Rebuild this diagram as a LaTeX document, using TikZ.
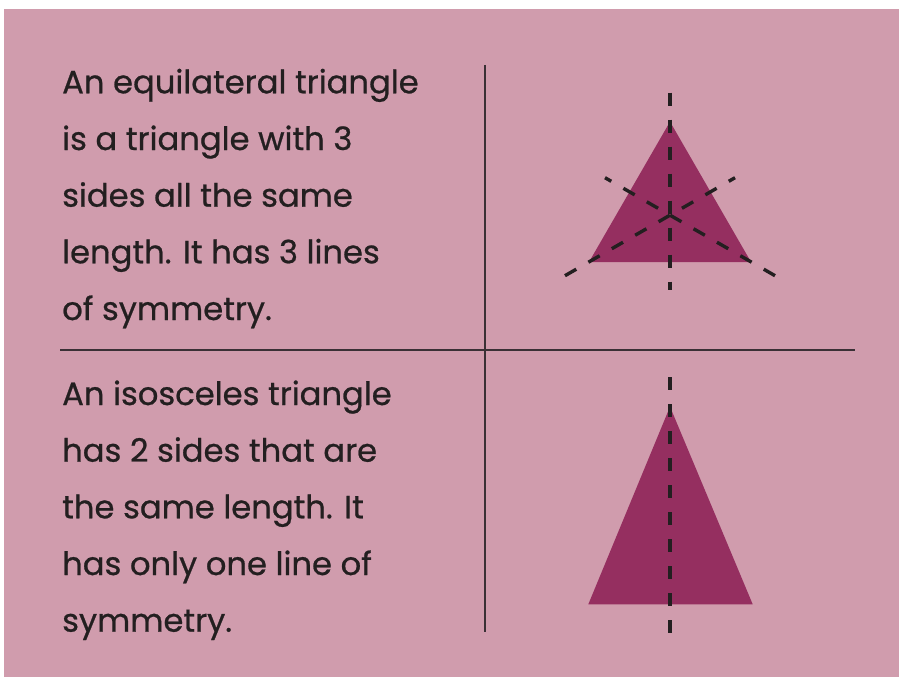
\documentclass[tikz,border=0pt]{standalone}
\usepackage{fontspec}
\setmainfont{Poppins}[FakeBold=0.7]
\definecolor{bgpink}{HTML}{D09CAD}
\definecolor{tri}{HTML}{952F60}
\definecolor{ink}{HTML}{231F20}
\definecolor{rule}{HTML}{3A3035}
\begin{document}
\begin{tikzpicture}[x=1pt,y=-1pt,
  txt/.style={anchor=base west, inner sep=0pt, text=ink, font=\fontsize{32.2}{38}\selectfont},
  divider/.style={draw=rule, line width=2pt},
  symline/.style={draw=ink, line width=3.4pt, dash pattern=on 13pt off 14pt},
  trifill/.style={fill=tri, draw=none}]
\useasboundingbox (0,0) rectangle (899,677);
\fill[bgpink] (3.5,9) rectangle (899,677);
% dividers
\coordinate (vt) at (485,65);
\coordinate (vb) at (485,632);
\coordinate (hl) at (60,350);
\coordinate (hr) at (855,350);
\draw[divider] (vt) -- (vb);
\draw[divider] (hl) -- (hr);
% text block 1
\node[txt] (l1) at (62,93.3) {An equilateral triangle};
\node[txt] (l2) at (62,150) {is a triangle with 3};
\node[txt] (l3) at (62,206.7) {sides all the same};
\node[txt] (l4) at (62,263.3) {length. It has 3 lines};
\node[txt] (l5) at (62,320) {of symmetry.};
% text block 2
\node[txt] (m1) at (62,405) {An isosceles triangle};
\node[txt] (m2) at (62,461.7) {has 2 sides that are};
\node[txt] (m3) at (62,518.3) {the same length. It};
\node[txt] (m4) at (62,575) {has only one line of};
\node[txt] (m5) at (62,631.7) {symmetry.};
% equilateral triangle
\coordinate (A) at (670,121.7);
\coordinate (B) at (589,262);
\coordinate (C) at (751,262);
\fill[trifill] (A) -- (B) -- (C) -- cycle;
\coordinate (e1a) at (670,92.7);
\coordinate (e1b) at (670,290);
\coordinate (e2a) at (565,275.7);
\coordinate (e2b) at (735,177.7);
\coordinate (e3a) at (775,275.7);
\coordinate (e3b) at (605,177.7);
\draw[symline] (e1a) -- (e1b);
\draw[symline] (e2a) -- (e2b);
\draw[symline] (e3a) -- (e3b);
% isosceles triangle
\coordinate (P) at (670,406.7);
\coordinate (Q) at (588.3,604.3);
\coordinate (R) at (752.7,604.3);
\fill[trifill] (P) -- (Q) -- (R) -- cycle;
\coordinate (i1a) at (670,377.3);
\coordinate (i1b) at (670,632.7);
\draw[symline] (i1a) -- (i1b);
\end{tikzpicture}
\end{document}
